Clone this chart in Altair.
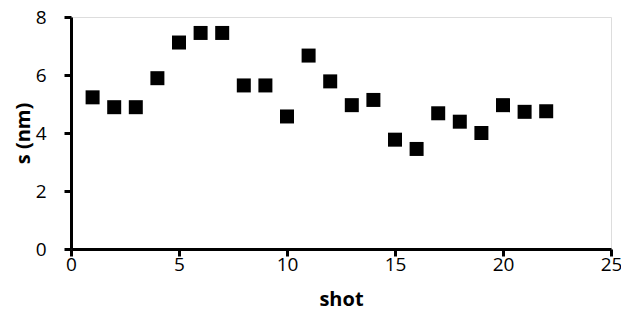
import altair as alt
import pandas as pd

shots = list(range(1, 23))
s_nm = [5.23, 4.89, 4.89, 5.89, 7.12, 7.45, 7.45, 5.64, 5.64, 4.57, 6.67,
        5.78, 4.96, 5.14, 3.77, 3.45, 4.68, 4.39, 4.00, 4.96, 4.73, 4.75]

df = pd.DataFrame({"shot": shots, "s": s_nm})

FONT = "Open Sans"
W, H = 540, 232

chart = alt.Chart(df).mark_square(size=196, color="black", opacity=1).encode(
    x=alt.X("shot:Q", scale=alt.Scale(domain=[0, 25], nice=False),
            axis=alt.Axis(title="shot", values=[0, 5, 10, 15, 20, 25],
                          grid=False, domainColor="black", domainWidth=3,
                          tickColor="black", tickWidth=3, tickSize=7,
                          labelFont=FONT, labelFontSize=19, labelColor="black",
                          labelPadding=-1, labelFlush=False,
                          titleFont=FONT, titleFontSize=20, titleFontWeight="bold",
                          titleColor="black", titleBaseline="alphabetic",
                          titleY=56, titleX=W / 2)),
    y=alt.Y("s:Q", scale=alt.Scale(domain=[0, 8], nice=False),
            axis=alt.Axis(title="s (nm)", values=[0, 2, 4, 6, 8],
                          grid=False, domainColor="black", domainWidth=3,
                          tickColor="black", tickWidth=3, tickSize=7,
                          labelFont=FONT, labelFontSize=19, labelColor="black",
                          labelPadding=18, labelFlush=False,
                          titleFont=FONT, titleFontSize=20, titleFontWeight="bold",
                          titleColor="black", titleBaseline="middle",
                          titleX=-48, titleY=H / 2, titleAngle=-90)),
).properties(
    width=W, height=H,
    autosize=alt.AutoSizeParams(type="none"),
    padding={"left": 63, "top": 9, "right": 10, "bottom": 57},
).configure_view(stroke=None).configure(background="white")

chart.save("out.html", embed_options={"renderer": "svg", "actions": False})
